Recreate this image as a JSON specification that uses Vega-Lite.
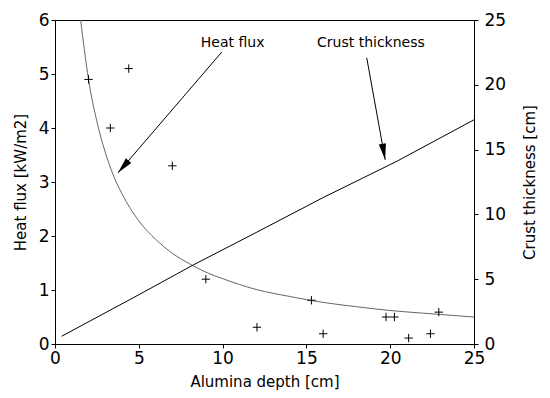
{
  "$schema": "https://vega.github.io/schema/vega-lite/v6.json",
  "width": 419,
  "height": 324,
  "autosize": "none",
  "padding": {"left": 55, "top": 20, "right": 76, "bottom": 54},
  "background": "white",
  "config": {
    "font": "DejaVu Sans",
    "view": {"stroke": "black", "strokeWidth": 1},
    "axis": {
      "grid": false,
      "domainColor": "black",
      "tickColor": "black",
      "labelColor": "black",
      "titleColor": "black",
      "labelFont": "DejaVu Sans",
      "titleFont": "DejaVu Sans",
      "labelFontSize": 17,
      "titleFontSize": 15,
      "titleFontWeight": "normal",
      "tickSize": 4,
      "labelFlush": false
    }
  },
  "datasets": {
    "flux": [
      {"x": 1.53, "y": 6.0}, {"x": 1.75, "y": 5.45}, {"x": 2.0, "y": 4.9}, {"x": 2.5, "y": 4.12}, {"x": 3.0, "y": 3.55},
      {"x": 3.5, "y": 3.11}, {"x": 4.0, "y": 2.78}, {"x": 5.0, "y": 2.28}, {"x": 6.0, "y": 1.94}, {"x": 7.0, "y": 1.68},
      {"x": 8.0, "y": 1.49}, {"x": 9.0, "y": 1.33}, {"x": 10.0, "y": 1.21}, {"x": 12.0, "y": 1.01},
      {"x": 14.0, "y": 0.88}, {"x": 16.0, "y": 0.77}, {"x": 18.0, "y": 0.69}, {"x": 20.0, "y": 0.62},
      {"x": 22.0, "y": 0.57}, {"x": 25.0, "y": 0.5}
    ],
    "crust": [
      {"x": 0.4, "c": 0.6}, {"x": 5.0, "c": 3.8}, {"x": 8.25, "c": 6.1}, {"x": 12.0, "c": 8.6},
      {"x": 16.0, "c": 11.3}, {"x": 20.4, "c": 14.1}, {"x": 25.0, "c": 17.3}
    ],
    "pts": [
      {"x": 2.0, "y": 4.9}, {"x": 4.4, "y": 5.1}, {"x": 3.3, "y": 4.0}, {"x": 7.0, "y": 3.3},
      {"x": 9.0, "y": 1.2}, {"x": 12.05, "y": 0.31}, {"x": 15.3, "y": 0.81}, {"x": 16.0, "y": 0.19},
      {"x": 19.75, "y": 0.5}, {"x": 20.25, "y": 0.5}, {"x": 21.1, "y": 0.11}, {"x": 22.4, "y": 0.19},
      {"x": 22.9, "y": 0.59}
    ],
    "arrows": [
      {"x": 9.96, "y": 5.41, "x2": 3.76, "y2": 3.17, "angle": 221},
      {"x": 18.6, "y": 5.3, "x2": 19.7, "y2": 3.41, "angle": 170}
    ],
    "labels": [
      {"x": 10.6, "y": 5.57, "t": "Heat flux"},
      {"x": 18.85, "y": 5.57, "t": "Crust thickness"}
    ]
  },
  "layer": [
    {
      "data": {"name": "flux"},
      "mark": {"type": "line", "color": "#666666", "strokeWidth": 1, "clip": true, "interpolate": "monotone"},
      "encoding": {
        "x": {"field": "x", "type": "quantitative", "scale": {"domain": [0, 25], "nice": false},
              "axis": {"title": "Alumina depth [cm]", "values": [0, 5, 10, 15, 20, 25], "titlePadding": 8}},
        "y": {"field": "y", "type": "quantitative", "scale": {"domain": [0, 6]},
              "axis": {"title": "Heat flux [kW/m2]", "values": [0, 1, 2, 3, 4, 5, 6], "titlePadding": 10}}
      }
    },
    {
      "data": {"name": "crust"},
      "mark": {"type": "line", "color": "black", "strokeWidth": 1},
      "encoding": {
        "x": {"field": "x", "type": "quantitative", "scale": {"domain": [0, 25], "nice": false}},
        "y": {"field": "c", "type": "quantitative", "scale": {"domain": [0, 25]},
              "axis": {"orient": "right", "title": "Crust thickness [cm]", "values": [0, 5, 10, 15, 20, 25], "titleAngle": 270, "titlePadding": 32, "labelPadding": 6}}
      }
    },
    {
      "data": {"name": "pts"},
      "mark": {"type": "point", "shape": "M-1,0L1,0M0,-1L0,1", "filled": false, "color": "black", "size": 70, "strokeWidth": 1, "opacity": 1},
      "encoding": {
        "x": {"field": "x", "type": "quantitative", "scale": {"domain": [0, 25], "nice": false}},
        "y": {"field": "y", "type": "quantitative", "scale": {"domain": [0, 6]}, "axis": null}
      }
    },
    {
      "data": {"name": "arrows"},
      "mark": {"type": "rule", "color": "black", "strokeWidth": 1},
      "encoding": {
        "x": {"field": "x", "type": "quantitative", "scale": {"domain": [0, 25], "nice": false}},
        "y": {"field": "y", "type": "quantitative", "scale": {"domain": [0, 6]}, "axis": null},
        "x2": {"field": "x2"},
        "y2": {"field": "y2"}
      }
    },
    {
      "data": {"name": "arrows"},
      "mark": {"type": "point", "shape": "M0,0L0.45,2L-0.45,2Z", "filled": true, "color": "black", "size": 260, "opacity": 1},
      "encoding": {
        "x": {"field": "x2", "type": "quantitative", "scale": {"domain": [0, 25], "nice": false}},
        "y": {"field": "y2", "type": "quantitative", "scale": {"domain": [0, 6]}, "axis": null},
        "angle": {"field": "angle", "type": "quantitative", "scale": null}
      }
    },
    {
      "data": {"name": "labels"},
      "mark": {"type": "text", "fontSize": 14, "color": "black", "align": "center", "baseline": "middle"},
      "encoding": {
        "x": {"field": "x", "type": "quantitative", "scale": {"domain": [0, 25], "nice": false}},
        "y": {"field": "y", "type": "quantitative", "scale": {"domain": [0, 6]}, "axis": null},
        "text": {"field": "t"}
      }
    }
  ],
  "resolve": {"scale": {"y": "independent"}}
}
